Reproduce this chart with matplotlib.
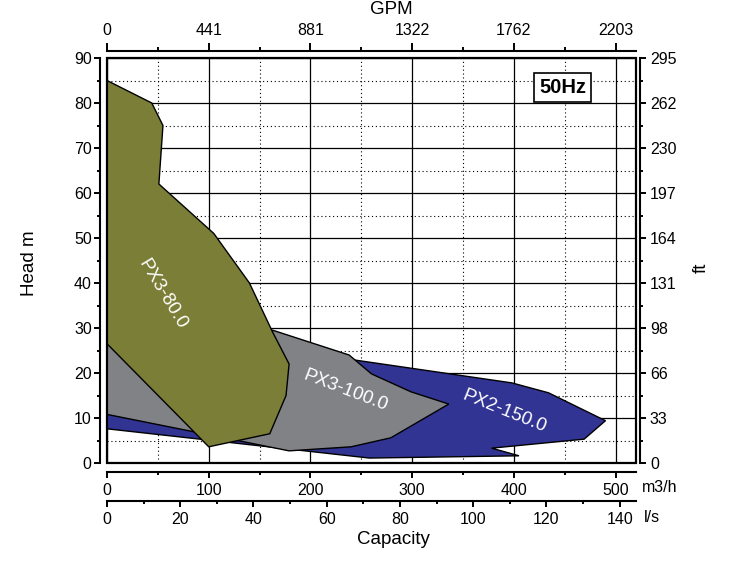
# pump selection chart, PX series at 50Hz

import numpy as np
import matplotlib.pyplot as plt
from matplotlib.patches import Polygon, Rectangle
from matplotlib.ticker import MultipleLocator

plt.rcParams['font.family'] = ['Liberation Sans', 'DejaVu Sans']

# operating areas: capacity (m3/h) and head (m) along the outline
px3_80_q = [0, 44, 55, 51, 105, 140, 163, 179, 176, 160, 100, 0]
px3_80_h = [85, 80, 75, 62, 51, 40, 29, 22, 15, 6.5, 3.6, 26.5]
px3_100_q = [0, 163, 238, 260, 299, 336, 279, 240, 179, 0]
px3_100_h = [26.5, 29.5, 24, 19.8, 15.8, 13.1, 5.6, 3.6, 2.7, 10.8]
px2_150_q = [0, 243, 398, 434, 490, 469, 378, 405, 258, 0]
px2_150_h = [10.8, 22.9, 17.8, 15.6, 9.4, 5.3, 3.3, 1.6, 1.1, 7.6]

names = ['PX2-150.0', 'PX3-100.0', 'PX3-80.0']
colors = ['#323494', '#808285', '#7b7e36']
label_q = [391, 235, 55]
label_h = [11.4, 16, 37.4]
label_rot = [-22, -21, -59]

m3h_ticks = [0, 100, 200, 300, 400, 500]
gpm_labels = ['0', '441', '881', '1322', '1762', '2203']
ls_ticks = [0, 20, 40, 60, 80, 100, 120, 140]
head_ticks = [0, 10, 20, 30, 40, 50, 60, 70, 80, 90]
ft_labels = ['0', '33', '66', '98', '131', '164', '197', '230', '262', '295']

QMAX, HMAX = 520, 90
W, H = 730, 565


def pump_chart():
    fig = plt.figure(figsize=(W / 100, H / 100), dpi=100)
    ax = fig.add_axes([107 / W, 1 - 463 / H, 529 / W, 405 / H])
    ax.set_xlim(0, QMAX)
    ax.set_ylim(0, HMAX)

    outlines = [(px2_150_q, px2_150_h), (px3_100_q, px3_100_h), (px3_80_q, px3_80_h)]
    for i, (q, h) in enumerate(outlines):
        ax.add_patch(Polygon(np.column_stack([q, h]), closed=True, fc=colors[i],
                             ec='black', lw=1.0, zorder=2))
        ax.text(label_q[i], label_h[i], names[i], color='white', fontsize=13.5,
                rotation=label_rot[i], ha='center', va='center', zorder=3,
                rotation_mode='anchor')

    ax.text(448, 83.5, '50Hz', fontsize=14.5, fontweight='bold', ha='center', va='center',
            zorder=6, bbox=dict(boxstyle='square,pad=0.25', fc='white', ec='black', lw=1.2))

    # grid
    ax.set_axisbelow(True)
    ax.xaxis.set_major_locator(MultipleLocator(100))
    ax.xaxis.set_minor_locator(MultipleLocator(50))
    ax.yaxis.set_major_locator(MultipleLocator(10))
    ax.yaxis.set_minor_locator(MultipleLocator(5))
    ax.grid(which='major', color='black', lw=0.9, ls='-')
    ax.grid(which='minor', color='black', lw=0.8, ls=(0, (1, 2.5)))

    ax.add_patch(Rectangle((0, 0), 1, 1, transform=ax.transAxes, fill=False,
                           lw=1.6, ec='black', zorder=5, clip_on=False))

    tick_kw = dict(width=1.4, labelsize=11.5, color='black')
    # left head axis and bottom m3/h axis on the main axes
    for s in ['top', 'right']:
        ax.spines[s].set_visible(False)
    ax.spines['left'].set_position(('outward', 5))
    ax.spines['bottom'].set_position(('outward', 6.5))
    for s in ['left', 'bottom']:
        ax.spines[s].set_linewidth(1.5)
    ax.set_xticks(m3h_ticks)
    ax.set_yticks(head_ticks)
    ax.tick_params(which='major', length=4, pad=2, **tick_kw)
    ax.tick_params(axis='x', which='major', pad=4)
    ax.tick_params(which='minor', length=2.5, width=1.4)

    # top GPM axis
    axt = ax.twiny()
    axt.set_xlim(0, QMAX)
    for s in ['left', 'right', 'bottom']:
        axt.spines[s].set_visible(False)
    axt.spines['top'].set_position(('outward', 5))
    axt.spines['top'].set_linewidth(1.5)
    axt.set_xticks(m3h_ticks)
    axt.set_xticklabels(gpm_labels)
    axt.xaxis.set_minor_locator(MultipleLocator(50))
    axt.tick_params(which='major', length=5.5, pad=4, **tick_kw)
    axt.tick_params(which='minor', length=3, width=1.4)

    # right ft axis
    axr = ax.twinx()
    axr.set_ylim(0, HMAX)
    for s in ['left', 'top', 'bottom']:
        axr.spines[s].set_visible(False)
    axr.spines['right'].set_position(('outward', 3))
    axr.spines['right'].set_linewidth(1.5)
    axr.set_yticks(head_ticks)
    axr.set_yticklabels(ft_labels)
    axr.yaxis.set_minor_locator(MultipleLocator(5))
    axr.tick_params(which='major', length=4, pad=3, **tick_kw)
    axr.tick_params(which='minor', length=2.5, width=1.4)

    # bottom l/s axis
    axl = ax.twiny()
    axl.set_xlim(0, QMAX / 3.6)
    for s in ['left', 'right', 'top']:
        axl.spines[s].set_visible(False)
    axl.spines['bottom'].set_visible(True)
    axl.spines['bottom'].set_position(('outward', 27))
    axl.spines['bottom'].set_linewidth(1.5)
    axl.xaxis.set_ticks_position('bottom')
    axl.xaxis.set_label_position('bottom')
    axl.set_xticks(ls_ticks)
    axl.xaxis.set_minor_locator(MultipleLocator(10))
    axl.tick_params(which='major', length=4, pad=4, **tick_kw)
    axl.tick_params(which='minor', length=2.5, width=1.4)

    # axis titles
    fig.text(30 / W, 1 - 263 / H, 'Head m', rotation=90, fontsize=13.5, ha='center', va='center')
    fig.text(701 / W, 1 - 268 / H, 'ft', rotation=90, fontsize=13.5, ha='center', va='center')
    fig.text(391 / W, 1 - 10 / H, 'GPM', fontsize=13.5, ha='center', va='center')
    fig.text(393 / W, 1 - 539 / H, 'Capacity', fontsize=13.5, ha='center', va='center')
    fig.text(642 / W, 1 - 487 / H, 'm3/h', fontsize=11.5, ha='left', va='center')
    fig.text(644 / W, 1 - 518 / H, 'l/s', fontsize=11.5, ha='left', va='center')

    plt.savefig('out.png', dpi=100)


def main():
    pump_chart()


if __name__ == '__main__':
    main()
